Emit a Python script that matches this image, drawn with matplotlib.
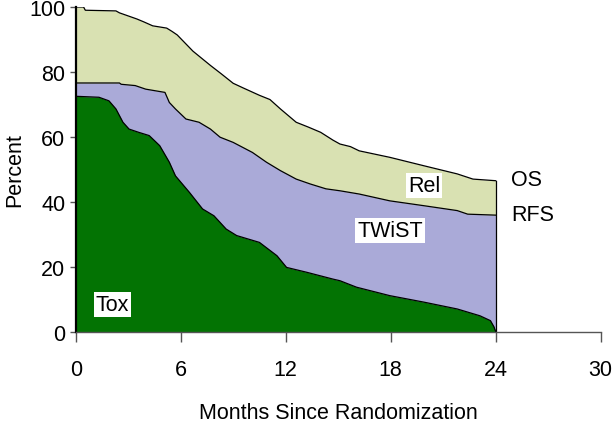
import matplotlib
matplotlib.use("Agg")
import matplotlib.pyplot as plt
import numpy as np

plt.rcParams['font.family'] = ['Liberation Sans', 'DejaVu Sans']

# Overall survival (top curve) - vertices
os_t = [0, 0.45, 0.55, 2.3, 2.5, 3.5, 3.9, 4.4, 5.2, 5.5, 5.8, 6.7, 7.7, 8.3,
        9.0, 9.6, 10.5, 11.1, 11.7, 12.6, 13.3, 14.0, 14.7, 15.1, 15.7, 16.2,
        17.95, 19.9, 21.8, 22.7, 24]
os_v = [100, 100, 99.0, 98.8, 98.2, 96.3, 95.4, 94.2, 93.5, 92.5, 91.4, 86.4,
        82.0, 79.5, 76.5, 75.0, 72.8, 71.5, 68.6, 64.5, 63.0, 61.4, 59.0, 57.8,
        57.0, 55.7, 53.7, 51.1, 48.6, 47.0, 46.5]

# Relapse-free survival (middle curve)
rfs_t = [0, 2.5, 2.6, 3.4, 4.0, 5.1, 5.35, 5.7, 6.3, 7.05, 7.7, 8.25, 9.0, 10.1,
         10.9, 11.7, 12.6, 13.4, 14.3, 15.1, 16.2, 17.95, 19.9, 21.8, 22.4, 24]
rfs_v = [76.6, 76.6, 76.2, 75.8, 74.7, 73.7, 70.6, 68.6, 65.5, 64.5, 62.4, 59.9,
         58.3, 55.2, 52.2, 49.6, 47.0, 45.5, 44.0, 43.4, 42.4, 40.3, 38.8, 37.3,
         36.2, 35.9]

# Toxicity curve (bottom curve)
tox_t = [0, 1.33, 1.9, 2.3, 2.7, 3.05, 3.6, 4.2, 4.8, 5.35, 5.7, 6.5, 7.25, 7.9,
         8.6, 9.2, 10.5, 11.5, 12.05, 13.2, 14.7, 15.1, 16.05, 17.95, 19.9,
         21.8, 23.1, 23.7, 23.9, 24]
tox_v = [72.5, 72.2, 71.1, 68.6, 64.5, 62.4, 61.4, 60.4, 57.3, 52.2, 48.0, 42.9,
         37.8, 35.7, 31.6, 29.6, 27.5, 23.4, 19.8, 18.3, 16.2, 15.7, 13.7, 11.1,
         9.1, 7.0, 4.9, 3.4, 1.5, 0]

x_ticks = [0, 6, 12, 18, 24, 30]
y_ticks = [0, 20, 40, 60, 80, 100]

c_rel = '#d9e1b2'
c_twist = '#aaaad8'
c_tox = '#037303'

fs = 15.5

fig = plt.figure(figsize=(6.13, 4.27), dpi=100)
ax = fig.add_axes([75.7 / 613, 1 - 332.7 / 427, 525 / 613, 324.7 / 427])

ax.fill_between(os_t, 0, os_v, color=c_rel, lw=0)
ax.fill_between(rfs_t, 0, rfs_v, color=c_twist, lw=0)
ax.fill_between(tox_t, 0, tox_v, color=c_tox, lw=0)

for t, v in [(os_t, os_v), (rfs_t, rfs_v), (tox_t, tox_v)]:
    ax.plot(t, v, color='black', lw=0.9)
ax.plot([os_t[-1], os_t[-1]], [0, os_v[-1]], color='black', lw=0.9)

ax.set_xlim(0, 30)
ax.set_ylim(0, 100)
ax.set_xticks(x_ticks)
ax.set_yticks(y_ticks)
for s in ['top', 'right']:
    ax.spines[s].set_visible(False)
ax.spines['left'].set_color('black')
ax.spines['left'].set_linewidth(1.6)
ax.spines['bottom'].set_color('#555555')
ax.spines['bottom'].set_linewidth(1.0)
ax.tick_params(axis='x', length=7.5, width=1.0, color='#555555', pad=12, labelsize=fs)
ax.tick_params(axis='y', length=4.5, width=1.0, color='#555555', pad=3, labelsize=fs)

box = dict(facecolor='white', edgecolor='none', pad=1.5)
ax.text(2.1, 8.3, 'Tox', fontsize=fs, ha='center', va='center', bbox=box)
ax.text(17.96, 31.1, 'TWiST', fontsize=fs, ha='center', va='center', bbox=box)
ax.text(19.9, 45.0, 'Rel', fontsize=fs, ha='center', va='center', bbox=box)
ax.text(24.9, 47.0, 'OS', fontsize=fs, ha='left', va='center', clip_on=False)
ax.text(24.9, 36.2, 'RFS', fontsize=fs, ha='left', va='center', clip_on=False)

fig.text(338 / 613, 1 - 419 / 427, 'Months Since Randomization', fontsize=fs,
         ha='center', va='baseline')
fig.text(14.5 / 613, 1 - 170 / 427, 'Percent', fontsize=fs, rotation=90,
         ha='center', va='center')

fig.savefig('out.png', dpi=100)
